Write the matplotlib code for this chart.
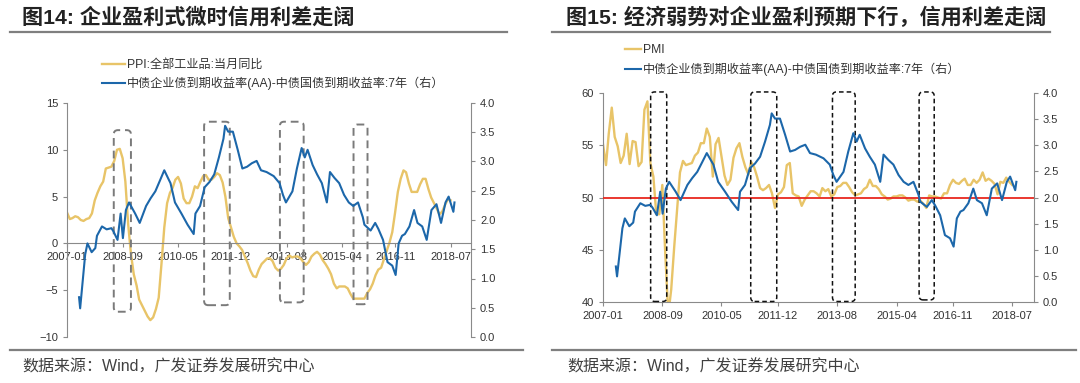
import pandas as pd
import matplotlib
matplotlib.use('Agg')
import matplotlib.pyplot as plt
import matplotlib.dates as mdates
from matplotlib.patches import FancyBboxPatch
from matplotlib.lines import Line2D

plt.rcParams['font.family'] = ['Liberation Sans', 'Noto Sans CJK SC']

# месячные ряды 2007-01 .. 2018-07
months = pd.date_range('2007-01-01', '2018-07-01', freq='MS')

ppi = [3.3, 2.6, 2.7, 2.9, 2.8, 2.5, 2.4, 2.6, 2.7, 3.2, 4.6, 5.4,
       6.1, 6.6, 8.0, 8.1, 8.2, 8.8, 10.0, 10.1, 9.1, 6.6, 2.0, -1.1,
       -3.3, -4.5, -6.0, -6.6, -7.2, -7.8, -8.2, -7.9, -7.0, -5.8, -2.1, 1.7,
       4.3, 5.4, 5.9, 6.8, 7.1, 6.4, 4.8, 4.3, 4.3, 5.0, 6.1, 5.9,
       6.6, 7.2, 7.3, 6.8, 6.8, 7.1, 7.5, 7.3, 6.5, 5.0, 2.7, 1.7,
       0.7, 0.0, -0.3, -0.7, -1.4, -2.1, -2.9, -3.5, -3.6, -2.8, -2.2, -1.9,
       -1.6, -1.6, -1.9, -2.6, -2.9, -2.7, -2.3, -1.6, -1.3, -1.5, -1.4, -1.4,
       -1.6, -2.0, -2.3, -2.0, -1.4, -1.1, -0.9, -1.2, -1.8, -2.2, -2.7, -3.3,
       -4.3, -4.8, -4.6, -4.6, -4.6, -4.8, -5.4, -5.9, -5.9, -5.9, -5.9, -5.9,
       -5.3, -4.9, -4.3, -3.4, -2.8, -2.6, -1.7, -0.8, 0.1, 1.2, 3.3, 5.5,
       6.9, 7.8, 7.6, 6.4, 5.5, 5.5, 5.5, 6.3, 6.9, 6.9, 5.8, 4.9,
       4.3, 3.7, 3.1, 3.4, 4.1, 4.7, 4.6]

pmi = [55.1, 53.1, 56.1, 58.6, 55.8, 54.9, 53.3, 54.0, 56.1, 53.2, 55.4, 55.3,
       53.0, 53.4, 58.4, 59.2, 53.3, 52.0, 48.4, 48.4, 51.2, 44.6, 38.8, 41.2,
       45.3, 49.0, 52.4, 53.5, 53.1, 53.2, 53.3, 54.0, 54.3, 55.2, 55.2, 56.6,
       55.8, 52.0, 55.1, 55.7, 53.9, 52.1, 51.2, 51.7, 53.8, 54.7, 55.2, 53.9,
       52.9, 52.2, 53.4, 52.9, 52.0, 50.9, 50.7, 50.9, 51.2, 50.4, 49.0, 50.3,
       50.5, 51.0, 53.1, 53.3, 50.4, 50.2, 50.1, 49.2, 49.8, 50.2, 50.6, 50.6,
       50.4, 50.1, 50.9, 50.6, 50.8, 50.1, 50.3, 51.0, 51.1, 51.4, 51.4, 51.0,
       50.5, 50.2, 50.3, 50.4, 50.8, 51.0, 51.7, 51.1, 51.1, 50.8, 50.3, 50.1,
       49.8, 49.9, 50.1, 50.1, 50.2, 50.2, 50.0, 49.7, 49.8, 49.8, 49.6, 49.7,
       49.4, 49.0, 50.2, 50.1, 50.1, 50.0, 49.9, 50.4, 50.4, 51.2, 51.7, 51.4,
       51.3, 51.6, 51.8, 51.2, 51.2, 51.7, 51.4, 51.7, 52.4, 51.6, 51.8, 51.6,
       51.3, 50.3, 51.5, 51.4, 51.9, 51.5, 51.2]

# кредитный спред AA - гособлигации 7 лет (правая ось)
spread_dates = ['2007-05-13', '2007-05-25', '2007-07-19', '2007-08-13', '2007-09-28',
                '2007-11-07', '2007-11-25', '2008-01-19', '2008-03-10', '2008-05-01',
                '2008-05-22', '2008-07-07', '2008-08-10', '2008-09-04', '2008-10-07',
                '2008-11-10', '2009-01-16', '2009-03-07', '2009-05-16', '2009-07-04',
                '2009-08-25', '2009-10-16', '2009-12-01', '2010-01-16', '2010-02-07',
                '2010-03-28', '2010-06-07', '2010-08-13', '2010-10-19', '2010-11-07',
                '2010-12-28', '2011-02-16', '2011-04-10', '2011-06-01', '2011-07-22',
                '2011-09-10', '2011-09-28', '2011-11-01', '2011-12-22', '2012-02-13',
                '2012-04-04', '2012-05-25', '2012-07-16', '2012-09-07', '2012-10-25',
                '2012-12-25', '2013-03-13', '2013-05-16', '2013-06-22', '2013-07-25',
                '2013-10-04', '2013-11-22', '2014-01-13', '2014-02-16', '2014-03-19',
                '2014-05-13', '2014-07-01', '2014-08-22', '2014-10-16', '2014-11-19',
                '2015-01-07', '2015-02-28', '2015-04-22', '2015-06-13', '2015-08-01',
                '2015-09-22', '2015-11-13', '2015-12-01', '2016-02-07', '2016-03-28',
                '2016-05-01', '2016-06-22', '2016-08-10', '2016-10-01', '2016-11-07',
                '2016-12-10', '2017-01-16', '2017-02-16', '2017-04-07', '2017-05-28',
                '2017-07-04', '2017-08-25', '2017-10-13', '2017-12-04', '2018-01-28',
                '2018-03-19', '2018-05-07', '2018-06-10', '2018-08-01', '2018-08-13']
spread = [0.68, 0.49, 1.41, 1.60, 1.45, 1.52, 1.73, 1.89, 1.84, 1.86,
          1.81, 1.66, 2.11, 1.69, 2.17, 2.30, 2.11, 1.95, 2.24, 2.37,
          2.49, 2.68, 2.85, 2.70, 2.63, 2.30, 2.11, 1.92, 1.76, 2.11,
          2.24, 2.56, 2.65, 2.78, 3.07, 3.39, 3.61, 3.51, 3.51, 3.20,
          2.88, 2.91, 2.97, 3.01, 2.85, 2.82, 2.75, 2.63, 2.43, 2.30,
          2.49, 2.88, 3.23, 3.07, 3.20, 2.94, 2.78, 2.63, 2.30, 2.82,
          2.72, 2.63, 2.43, 2.30, 2.24, 2.30, 2.05, 1.92, 1.82, 1.95,
          1.85, 1.66, 1.28, 1.22, 1.06, 1.60, 1.73, 1.76, 1.89, 2.17,
          1.95, 1.89, 1.66, 2.17, 2.27, 1.95, 2.30, 2.40, 2.14, 2.30]

tick_labels = ['2007-01', '2008-09', '2010-05', '2011-12', '2013-08', '2015-04', '2016-11', '2018-07']

# рамки периодов (начало, конец, низ, верх)
left_boxes = [('2008-05-27', '2008-12-01', -7.3, 12.1),
              ('2011-02-10', '2011-11-18', -6.6, 13.0),
              ('2013-05-20', '2014-02-04', -6.3, 13.0),
              ('2015-08-04', '2016-01-04', -6.5, 12.7)]
right_boxes = [('2008-05-04', '2008-10-16', 40.05, 60.1),
               ('2011-02-25', '2011-11-19', 40.05, 60.1),
               ('2013-06-13', '2014-02-01', 40.05, 60.1),
               ('2015-11-19', '2016-04-22', 40.2, 60.1)]

YELLOW = '#E8C468'
BLUE = '#1C67AA'
GRAY = '#8a8a8a'
TXT = '#333333'

spread_dt = pd.to_datetime(spread_dates)
ticks = pd.to_datetime(tick_labels)
xmin, xmax = pd.Timestamp('2007-01-01'), pd.Timestamp('2019-02-10')

fig = plt.figure(figsize=(10.8, 3.83), dpi=100)


def style_axes(ax, ax2):
    for a in (ax, ax2):
        a.spines['top'].set_visible(False)
        for s in ('left', 'right', 'bottom'):
            a.spines[s].set_color(GRAY)
            a.spines[s].set_linewidth(0.8)
        a.tick_params(labelsize=8, colors=TXT, length=3, width=0.8)
        a.tick_params(axis='both', color=GRAY)
    ax2.spines['left'].set_visible(False)
    ax2.spines['bottom'].set_visible(False)
    ax.spines['right'].set_visible(False)
    ax.set_xlim(xmin, xmax)
    ax.set_xticks(ticks)
    ax.set_xticklabels(tick_labels)
    ax2.set_ylim(0, 4)
    ax2.set_yticks([0, 0.5, 1.0, 1.5, 2.0, 2.5, 3.0, 3.5, 4.0])
    ax2.set_yticklabels(['%.1f' % v for v in ax2.get_yticks()])


def add_box(ax, start, end, lo, hi, color, lw, dashes, xr, yr):
    x0 = mdates.date2num(pd.Timestamp(start))
    x1 = mdates.date2num(pd.Timestamp(end))
    p = FancyBboxPatch((x0, lo), x1 - x0, hi - lo,
                       boxstyle='round,pad=0,rounding_size=%f' % xr,
                       mutation_aspect=yr / xr, fill=False, edgecolor=color,
                       linewidth=lw, linestyle=(0, dashes), clip_on=False, zorder=5)
    ax.add_patch(p)


# ---- левый график: PPI и спред
axL = fig.add_axes([67 / 1080, 46 / 383, 404 / 1080, 234 / 383])
axL2 = axL.twinx()
style_axes(axL, axL2)
axL.set_ylim(-10, 15)
axL.set_yticks([-10, -5, 0, 5, 10, 15])
axL.spines['bottom'].set_position(('data', 0))
axL.plot(months, ppi, color=YELLOW, lw=1.7)
axL2.plot(spread_dt, spread, color=BLUE, lw=1.5)
for b in left_boxes:
    add_box(axL, *b, color='#7a7a7a', lw=1.4, dashes=(4, 2.5), xr=45, yr=0.45)

# ---- правый график: PMI и спред
axR = fig.add_axes([603 / 1080, 81 / 383, 431 / 1080, 209 / 383])
axR2 = axR.twinx()
style_axes(axR, axR2)
axR.set_ylim(40, 60)
axR.set_yticks([40, 45, 50, 55, 60])
axR.plot(months, pmi, color=YELLOW, lw=1.7)
axR2.plot(spread_dt, spread, color=BLUE, lw=1.5)
axR.axhline(50, color='#E8271F', lw=1.3, zorder=4)
axR2.set_zorder(axR.get_zorder() + 1)
axR2.patch.set_visible(False)
for b in right_boxes:
    add_box(axR, *b, color='#111111', lw=1.1, dashes=(3, 2), xr=40, yr=0.4)

# ---- легенды
hY = Line2D([], [], color=YELLOW, lw=1.7)
hB = Line2D([], [], color=BLUE, lw=1.5)
sec = '中债企业债到期收益率(AA)-中债国债到期收益率:7年（右）'
fig.legend([hY, hB], ['PPI:全部工业品:当月同比', sec], loc='upper left',
           bbox_to_anchor=(102 / 1080, 1 - 59 / 383), frameon=False, fontsize=8.7,
           handlelength=1.9, handletextpad=0.2, labelspacing=0.45, borderpad=0,
           borderaxespad=0, labelcolor=TXT)
fig.legend([hY, hB], ['PMI', sec], loc='upper left',
           bbox_to_anchor=(625 / 1080, 1 - 44 / 383), frameon=False, fontsize=8.7,
           handlelength=1.3, handletextpad=0.2, labelspacing=0.55, borderpad=0,
           borderaxespad=0, labelcolor=TXT)

# ---- заголовки, линии, источник
fig.text(22 / 1080, 1 - 17 / 383, '图14: 企业盈利式微时信用利差走阔', fontsize=15.2,
         fontweight='bold', color='#222222', va='center')
fig.text(566 / 1080, 1 - 17 / 383, '图15: 经济弱势对企业盈利预期下行，信用利差走阔', fontsize=15.2,
         fontweight='bold', color='#222222', va='center')
for x0, x1 in ((10, 507), (552, 1050)):
    fig.add_artist(Line2D([x0 / 1080, x1 / 1080], [1 - 32 / 383] * 2, color='#7f7f7f', lw=1.6))
for x0, x1 in ((10, 523), (552, 1076)):
    fig.add_artist(Line2D([x0 / 1080, x1 / 1080], [1 - 350 / 383] * 2, color='#7f7f7f', lw=1.6))
for x in (22, 567):
    fig.text(x / 1080, 1 - 367 / 383, '数据来源：Wind，广发证券发展研究中心', fontsize=11.5,
             color='#404040', va='center')

fig.savefig('out.png', dpi=100)
